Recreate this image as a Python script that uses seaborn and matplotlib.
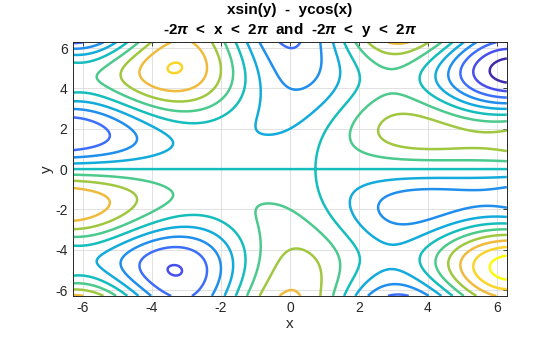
import numpy as np
import matplotlib
matplotlib.use("Agg")
import matplotlib.pyplot as plt
from matplotlib.colors import LinearSegmentedColormap, Normalize
import seaborn as sns

# ---- data ----
x_range = [-2 * np.pi, 2 * np.pi]
y_range = [-2 * np.pi, 2 * np.pi]
n_points = 500
levels = [-10, -8, -6, -4, -2, 0, 2, 4, 6, 8, 10]
x_ticks = [-6, -4, -2, 0, 2, 4, 6]
y_ticks = [-6, -4, -2, 0, 2, 4, 6]
title_lines = ["xsin(y)  -  ycos(x)",
               r"-2$\pi$  <  x  <  2$\pi$  and  -2$\pi$  <  y  <  2$\pi$"]
x_label = "x"
y_label = "y"

# parula-like colormap (one anchor per contour level)
parula_pts = [
    (0.25, 0.17, 0.68), (0.28, 0.31, 0.94), (0.24, 0.43, 0.98),
    (0.12, 0.56, 0.93), (0.07, 0.67, 0.86), (0.08, 0.74, 0.74),
    (0.30, 0.79, 0.55), (0.62, 0.78, 0.25), (0.94, 0.73, 0.24),
    (0.98, 0.83, 0.16), (0.98, 0.98, 0.06),
]
parula = LinearSegmentedColormap.from_list("parula", parula_pts, N=256)

xs = np.linspace(x_range[0], x_range[1], n_points)
ys = np.linspace(y_range[0], y_range[1], n_points)
X, Y = np.meshgrid(xs, ys)
Z = X * np.sin(Y) - Y * np.cos(X)

sns.set_style("white")
plt.rcParams["font.family"] = ["Liberation Sans", "DejaVu Sans"]
plt.rcParams["mathtext.fontset"] = "custom"
plt.rcParams["mathtext.it"] = "Liberation Sans:italic:bold"
plt.rcParams["mathtext.rm"] = "Liberation Sans:bold"
plt.rcParams["axes.unicode_minus"] = False

fig = plt.figure(figsize=(5.6, 3.37), dpi=100)
ax = fig.add_axes([0.1305, 0.122, 0.7745, 0.7525])

ax.contour(X, Y, Z, levels=levels, cmap=parula,
           norm=Normalize(min(levels), max(levels)), linewidths=1.8)

ax.set_xlim(x_range)
ax.set_ylim(y_range)
ax.set_xticks(x_ticks)
ax.set_yticks(y_ticks)
ax.grid(True, color="#dcdcdc", linewidth=0.6)
ax.set_axisbelow(True)
ax.tick_params(direction="in", length=3, width=0.6, colors="#262626",
               labelsize=10, top=True, right=True, pad=4)
for s in ax.spines.values():
    s.set_color("#262626")
    s.set_linewidth(0.7)
ax.set_xlabel(x_label, fontsize=11, color="#262626", labelpad=1)
ax.set_ylabel(y_label, fontsize=11, color="#262626", labelpad=1)
ax.set_title("\n".join(title_lines), fontsize=11, fontweight="bold",
             color="#000000", pad=6, linespacing=1.3)

fig.savefig("out.png", dpi=100)
